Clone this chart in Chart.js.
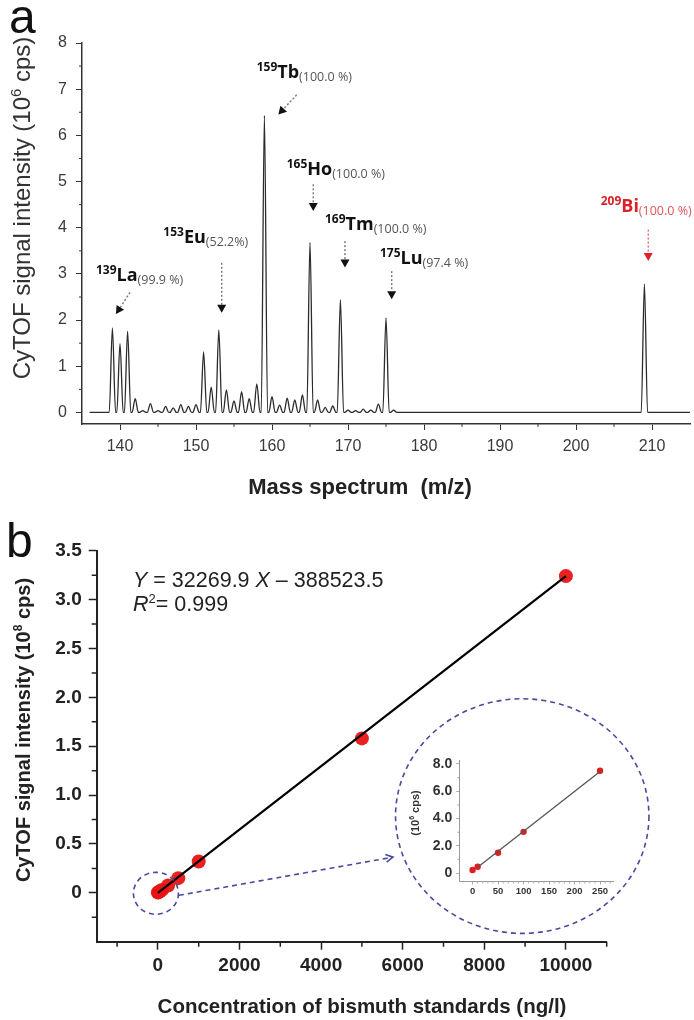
<!DOCTYPE html>
<html>
<head>
<meta charset="utf-8">
<script src="https://cdn.jsdelivr.net/npm/chart.js@4.4.1/dist/chart.umd.min.js"></script>
<style>
  body { margin: 0; background: #fff; }
  #wrap { position: relative; width: 694px; height: 1020px; }
  canvas { position: absolute; }
</style>
</head>
<body>
<div id="wrap">
  <canvas id="spectrum" width="694" height="500" style="left:0;top:0"></canvas>
  <canvas id="calib" width="694" height="520" style="left:0;top:500px"></canvas>
  <canvas id="inset" width="230" height="160" style="left:395px;top:745px"></canvas>
</div>
<script>
// ---- panel a : mass spectrum (10^6 cps) ----
const peakMasses = [139, 140, 141, 142, 143, 144, 145, 146, 147, 148, 149, 150, 151, 152, 153, 154, 155, 156, 157, 158,
  159, 160, 161, 162, 163, 164, 165, 166, 167, 168, 169, 170, 171, 172, 173, 174, 175, 176, 209];
const peakHeights = [1.83, 1.49, 1.76, 0.30, 0.04, 0.19, 0.04, 0.13, 0.10, 0.17, 0.13, 0.17, 1.31, 0.55, 1.79, 0.49, 0.25, 0.45, 0.30, 0.62,
  6.43, 0.34, 0.16, 0.31, 0.27, 0.38, 3.68, 0.27, 0.11, 0.14, 2.44, 0.05, 0.04, 0.07, 0.05, 0.18, 2.05, 0.05, 2.78];
const massTicks = [140, 150, 160, 170, 180, 190, 200, 210];
const massMinorTicks = [145, 155, 165, 175, 185, 195, 205];
const intensityTicks = [0, 1, 2, 3, 4, 5, 6, 7, 8];
const intensityMinorTicks = [0.5, 1.5, 2.5, 3.5, 4.5, 5.5, 6.5, 7.5];
const isotopeMass = ['139', '153', '159', '165', '169', '175', '209'];
const isotopeElement = ['La', 'Eu', 'Tb', 'Ho', 'Tm', 'Lu', 'Bi'];
const isotopeAbundance = ['(99.9 %)', '(52.2%)', '(100.0 %)', '(100.0 %)', '(100.0 %)', '(97.4 %)', '(100.0 %)'];

// ---- panel b : calibration (10^8 cps) ----
const concentrations = [0, 10, 50, 100, 250, 500, 1000, 5000, 10000];
const signalE8 = [0.0024, 0.0048, 0.015, 0.030, 0.075, 0.15, 0.32, 1.58, 3.24];
const fitConc = [0, 10000];
const fitSignalE8 = [0.0, 3.24];
const concTicks = [0, 2000, 4000, 6000, 8000, 10000];
const concMinorTicks = [-1000, 1000, 3000, 5000, 7000, 9000, 11000];
const signalTicks = [0, 0.5, 1.0, 1.5, 2.0, 2.5, 3.0, 3.5];
const signalMinorTicks = [-0.25, 0.25, 0.75, 1.25, 1.75, 2.25, 2.75, 3.25];

// ---- inset (10^6 cps) ----
const insetConc = [0, 10, 50, 100, 250];
const insetSignalE6 = [0.24, 0.48, 1.5, 3.03, 7.5];
const insetFitConc = [10, 250];
const insetFitSignalE6 = [0.45, 7.45];
const insetConcTicks = [0, 50, 100, 150, 200, 250];
const insetConcMinorTicks = [10, 20, 30, 40, 60, 70, 80, 90, 110, 120, 130, 140, 160, 170, 180, 190, 210, 220, 230, 240, 260, 270];
const insetSignalTicks = [0, 2, 4, 6, 8];
const insetSignalMinorTicks = [1, 3, 5, 7];

const FONT = "'Liberation Sans', Arial, sans-serif";
const LFONT = "'Open Sans', 'Liberation Sans', sans-serif";
Chart.defaults.font.family = FONT;

const setTicks = list => scale => { scale.ticks = list.map(v => ({ value: v })); };

function drawMinor(chart, id, values, len, color, width) {
  const s = chart.scales[id], ctx = chart.ctx, a = chart.chartArea;
  ctx.save();
  ctx.strokeStyle = color;
  ctx.lineWidth = width;
  ctx.beginPath();
  values.forEach(v => {
    const p = s.getPixelForValue(v);
    if (s.isHorizontal()) { ctx.moveTo(p, a.bottom); ctx.lineTo(p, a.bottom + len); }
    else { ctx.moveTo(a.left - len, p); ctx.lineTo(a.left, p); }
  });
  ctx.stroke();
  ctx.restore();
}

// draw a run of text pieces with different fonts / offsets
function drawParts(ctx, parts, x, y, align) {
  let w = 0;
  parts.forEach(p => { ctx.font = p.font; p.w = ctx.measureText(p.text).width; w += p.w; });
  let cx = align === 'center' ? x - w / 2 : x;
  ctx.textAlign = 'left';
  ctx.textBaseline = 'alphabetic';
  parts.forEach(p => {
    ctx.font = p.font;
    ctx.fillStyle = p.color || '#222';
    ctx.fillText(p.text, cx, y + (p.dy || 0));
    cx += p.w;
  });
}

function drawRotated(ctx, parts, x, y) {
  ctx.save();
  ctx.translate(x, y);
  ctx.rotate(-Math.PI / 2);
  drawParts(ctx, parts, 0, 0, 'center');
  ctx.restore();
}

function dottedArrow(ctx, x1, y1, x2, y2, shaft, head) {
  const ang = Math.atan2(y2 - y1, x2 - x1);
  const hl = 8, hw = 4.5;
  const bx = x2 - hl * Math.cos(ang), by = y2 - hl * Math.sin(ang);
  ctx.save();
  ctx.strokeStyle = shaft;
  ctx.lineWidth = 1.4;
  ctx.setLineDash([2, 2]);
  ctx.beginPath(); ctx.moveTo(x1, y1); ctx.lineTo(bx, by); ctx.stroke();
  ctx.setLineDash([]);
  ctx.fillStyle = head;
  ctx.beginPath();
  ctx.moveTo(x2, y2);
  ctx.lineTo(bx + hw * Math.sin(ang), by - hw * Math.cos(ang));
  ctx.lineTo(bx - hw * Math.sin(ang), by + hw * Math.cos(ang));
  ctx.closePath(); ctx.fill();
  ctx.restore();
}

// spectrum trace: baseline, then a narrow peak at every mass
const PEAK_HALF = 0.42;
const trace = [{ x: 136, y: 0 }];
peakMasses.forEach((m, i) => {
  trace.push({ x: m - PEAK_HALF, y: 0 }, { x: m, y: peakHeights[i] }, { x: m + PEAK_HALF, y: 0 });
});
trace.push({ x: 215, y: 0 });

// where the isotope tags and their arrows sit (data coords)
const tagAt = [[136.84, 2.84], [145.7, 3.66], [157.99, 7.25], [161.93, 5.15], [166.97, 3.96], [174.2, 3.21], [203.25, 4.35]];
const arrowFrom = [[141.32, 2.6], [153.38, 3.24], [163.25, 6.88], [165.43, 4.94], [169.6, 3.71], [175.75, 3.06], [209.51, 3.96]];
const arrowTo = [[139.47, 2.13], [153.38, 2.16], [160.83, 6.45], [165.43, 4.36], [169.6, 3.14], [175.75, 2.45], [209.51, 3.28]];

const spectrumDecor = {
  id: 'spectrumDecor',
  afterDraw(chart) {
    const ctx = chart.ctx, xs = chart.scales.x, ys = chart.scales.y;
    drawMinor(chart, 'x', massMinorTicks, 3, '#333', 1);
    drawMinor(chart, 'y', intensityMinorTicks, 3, '#333', 1);

    isotopeMass.forEach((mass, i) => {
      const red = isotopeElement[i] === 'Bi';
      const x = xs.getPixelForValue(tagAt[i][0]), y = ys.getPixelForValue(tagAt[i][1]);
      drawParts(ctx, [
        { text: mass, font: `bold 12px ${LFONT}`, dy: -7, color: red ? '#d9232a' : '#111' },
        { text: isotopeElement[i], font: `bold 18px ${LFONT}`, color: red ? '#d9232a' : '#111' },
        { text: isotopeAbundance[i], font: `12.5px ${LFONT}`, dy: 3, color: red ? '#e2545a' : '#555' }
      ], x, y, 'left');
      dottedArrow(ctx,
        xs.getPixelForValue(arrowFrom[i][0]), ys.getPixelForValue(arrowFrom[i][1]),
        xs.getPixelForValue(arrowTo[i][0]), ys.getPixelForValue(arrowTo[i][1]),
        red ? '#e46a6a' : '#777', red ? '#e0212b' : '#111');
    });

    ctx.save();
    ctx.fillStyle = '#111';
    ctx.font = `48px ${FONT}`;
    ctx.textAlign = 'left';
    ctx.fillText('a', 9, 33);
    ctx.restore();

    drawRotated(ctx, [
      { text: 'CyTOF signal intensity (10', font: `24px ${FONT}`, color: '#333' },
      { text: '6', font: `15px ${FONT}`, dy: -9, color: '#333' },
      { text: ' cps)', font: `24px ${FONT}`, color: '#333' }
    ], 30, 208);
    drawParts(ctx, [{ text: 'Mass spectrum  (m/z)', font: `bold 22px ${FONT}`, color: '#222' }], 360, 494, 'center');
  }
};

new Chart(document.getElementById('spectrum'), {
  type: 'scatter',
  data: {
    datasets: [{
      data: trace,
      showLine: true,
      borderColor: '#2b2b2b',
      borderWidth: 1.3,
      pointRadius: 0,
      cubicInterpolationMode: 'monotone'
    }]
  },
  options: {
    responsive: false,
    animation: false,
    layout: { padding: { top: 43, right: 4, left: 0, bottom: 0 } },
    plugins: { legend: { display: false }, tooltip: { enabled: false } },
    scales: {
      x: {
        type: 'linear', min: 135, max: 215,
        afterBuildTicks: setTicks(massTicks),
        afterFit: s => { s.height = 76; },
        ticks: { callback: v => String(v), font: { size: 16 }, color: '#3a3a3a', padding: 7, maxRotation: 0 },
        grid: { drawOnChartArea: false, tickLength: 6, tickColor: '#333', tickWidth: 1 },
        border: { color: '#333', width: 1.5 }
      },
      y: {
        min: -0.25, max: 8,
        afterBuildTicks: setTicks(intensityTicks),
        afterFit: s => { s.width = 82; },
        ticks: { callback: v => String(v), font: { size: 16 }, color: '#3a3a3a', padding: 9 },
        grid: { drawOnChartArea: false, tickLength: 6, tickColor: '#333', tickWidth: 1 },
        border: { color: '#333', width: 1.5 }
      }
    }
  },
  plugins: [spectrumDecor]
});

// ---- panel b ----
const calibDecor = {
  id: 'calibDecor',
  afterDraw(chart) {
    const ctx = chart.ctx, xs = chart.scales.x, ys = chart.scales.y;
    drawMinor(chart, 'x', concMinorTicks, 5, '#222', 1.5);
    drawMinor(chart, 'y', signalMinorTicks, 5, '#222', 1.5);

    // dashed zoom circles and arrow
    ctx.save();
    ctx.strokeStyle = '#4a4a9c';
    ctx.lineWidth = 1.6;
    ctx.setLineDash([5, 4]);
    const sx = xs.getPixelForValue(0) - 2, sy = ys.getPixelForValue(0) + 0.5;
    ctx.beginPath(); ctx.ellipse(sx, sy, 22.5, 21, 0, 0, Math.PI * 2); ctx.stroke();
    const bx = xs.getPixelForValue(8930), by = ys.getPixelForValue(0.785);
    ctx.beginPath(); ctx.ellipse(bx, by, 126.7, 117.3, 0, 0, Math.PI * 2); ctx.stroke();
    const tx = xs.getPixelForValue(5760), ty = ys.getPixelForValue(0.365);
    const fx = sx + 23, fy = sy + 2;
    ctx.beginPath(); ctx.moveTo(fx, fy); ctx.lineTo(tx, ty); ctx.stroke();
    ctx.setLineDash([]);
    const ang = Math.atan2(ty - fy, tx - fx);
    ctx.beginPath();
    ctx.moveTo(tx - 8 * Math.cos(ang - 0.5), ty - 8 * Math.sin(ang - 0.5));
    ctx.lineTo(tx, ty);
    ctx.lineTo(tx - 8 * Math.cos(ang + 0.5), ty - 8 * Math.sin(ang + 0.5));
    ctx.stroke();
    ctx.restore();

    // regression text
    drawParts(ctx, [
      { text: 'Y', font: `italic 21.5px ${FONT}` },
      { text: ' = 32269.9 ', font: `21.5px ${FONT}` },
      { text: 'X', font: `italic 21.5px ${FONT}` },
      { text: ' \u2013 388523.5', font: `21.5px ${FONT}` }
    ], 133, 87, 'left');
    drawParts(ctx, [
      { text: 'R', font: `italic 21.5px ${FONT}` },
      { text: '2', font: `13px ${FONT}`, dy: -8 },
      { text: '= 0.999', font: `21.5px ${FONT}` }
    ], 133, 111, 'left');

    ctx.save();
    ctx.fillStyle = '#111';
    ctx.font = `48px ${FONT}`;
    ctx.textAlign = 'left';
    ctx.fillText('b', 6, 57);
    ctx.restore();

    drawRotated(ctx, [
      { text: 'CyTOF signal intensity (10', font: `bold 20px ${FONT}` },
      { text: '8', font: `bold 12px ${FONT}`, dy: -8 },
      { text: ' cps)', font: `bold 20px ${FONT}` }
    ], 30, 230);
    drawParts(ctx, [{ text: 'Concentration of bismuth standards (ng/l)', font: `bold 20.5px ${FONT}` }], 362, 513, 'center');
  }
};

new Chart(document.getElementById('calib'), {
  type: 'scatter',
  data: {
    datasets: [
      {
        data: fitConc.map((c, i) => ({ x: c, y: fitSignalE8[i] })),
        showLine: true, borderColor: '#000', borderWidth: 2.2, pointRadius: 0
      },
      {
        data: concentrations.map((c, i) => ({ x: c, y: signalE8[i] })),
        pointRadius: 7, pointBackgroundColor: 'rgba(232,20,20,0.95)', pointBorderWidth: 0
      }
    ]
  },
  options: {
    responsive: false,
    animation: false,
    layout: { padding: { top: 50.7, right: 87.3, left: 0, bottom: 0 } },
    plugins: { legend: { display: false }, tooltip: { enabled: false } },
    scales: {
      x: {
        type: 'linear', min: -1500, max: 11000,
        afterBuildTicks: setTicks(concTicks),
        afterFit: s => { s.height = 78.3; },
        ticks: { callback: v => String(v), font: { size: 19, weight: 'bold' }, color: '#222', padding: 5, maxRotation: 0 },
        grid: { drawOnChartArea: false, tickLength: 8, tickColor: '#222', tickWidth: 1.5 },
        border: { color: '#222', width: 2 }
      },
      y: {
        min: -0.5, max: 3.5,
        afterBuildTicks: setTicks(signalTicks),
        afterFit: s => { s.width = 96.7; },
        ticks: { callback: v => v === 0 ? '0' : v.toFixed(1), font: { size: 19, weight: 'bold' }, color: '#222', padding: 7 },
        grid: { drawOnChartArea: false, tickLength: 8, tickColor: '#222', tickWidth: 1.5 },
        border: { color: '#222', width: 2 }
      }
    }
  },
  plugins: [calibDecor]
});

// ---- inset ----
const insetDecor = {
  id: 'insetDecor',
  afterDraw(chart) {
    drawMinor(chart, 'x', insetConcMinorTicks, 2, '#aaa', 1);
    drawMinor(chart, 'y', insetSignalMinorTicks, 2, '#aaa', 1);
    drawRotated(chart.ctx, [
      { text: '(10', font: `bold 11px ${FONT}`, color: '#333' },
      { text: '6', font: `bold 7px ${FONT}`, dy: -5, color: '#333' },
      { text: ' cps)', font: `bold 11px ${FONT}`, color: '#333' }
    ], 24, 68);
  }
};

new Chart(document.getElementById('inset'), {
  type: 'scatter',
  data: {
    datasets: [
      {
        data: insetFitConc.map((c, i) => ({ x: c, y: insetFitSignalE6[i] })),
        showLine: true, borderColor: '#555', borderWidth: 1.3, pointRadius: 0
      },
      {
        data: insetConc.map((c, i) => ({ x: c, y: insetSignalE6[i] })),
        pointRadius: 3.2, pointBackgroundColor: '#e01e1e', pointBorderWidth: 0
      }
    ]
  },
  options: {
    responsive: false,
    animation: false,
    layout: { padding: { top: 15.5, right: 11.7, left: 0, bottom: 0 } },
    plugins: { legend: { display: false }, tooltip: { enabled: false } },
    scales: {
      x: {
        type: 'linear', min: -26, max: 276,
        afterBuildTicks: setTicks(insetConcTicks),
        afterFit: s => { s.height = 23.5; },
        ticks: { callback: v => String(v), font: { size: 9.5, weight: 'bold' }, color: '#333', padding: 1, maxRotation: 0 },
        grid: { drawOnChartArea: false, tickLength: 3, tickColor: '#aaa', tickWidth: 1 },
        border: { color: '#999', width: 1 }
      },
      y: {
        min: -0.6, max: 8.25,
        afterBuildTicks: setTicks(insetSignalTicks),
        afterFit: s => { s.width = 64.3; },
        ticks: { callback: v => v === 0 ? '0' : v.toFixed(1), font: { size: 14, weight: 'bold' }, color: '#333', padding: 4 },
        grid: { drawOnChartArea: false, tickLength: 3, tickColor: '#aaa', tickWidth: 1 },
        border: { color: '#999', width: 1 }
      }
    }
  },
  plugins: [insetDecor]
});
</script>
</body>
</html>
